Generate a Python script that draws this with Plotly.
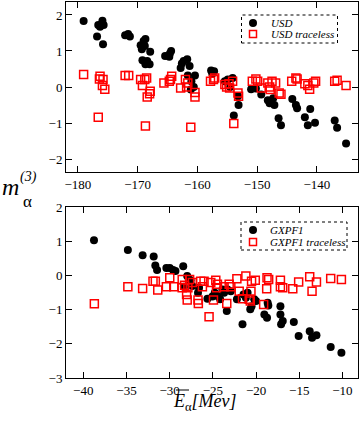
import plotly.graph_objects as go
from plotly.subplots import make_subplots

# USD panel
usd_e = [-179.05, -176.8, -176.6, -176.3, -175.9, -175.7, -175.8, -172.1, -171.6, -171.3,
         -169.5, -169.0, -168.7, -169.3, -168.8, -169.2, -168.4, -168.0, -168.7, -167.9,
         -165.4, -164.6, -164.4, -164.7, -162.6, -162.3, -161.7, -161.3, -162.8, -161.6,
         -160.4, -161.0, -160.6, -161.1, -157.7, -157.2, -157.5, -155.4, -154.9, -154.5,
         -154.1, -153.2, -153.1, -153.9, -151.0, -150.2, -149.3, -148.2, -147.9, -147.3,
         -147.1, -146.4, -146.0, -144.1, -143.5, -143.3, -142.0, -141.5, -141.1, -140.3,
         -137.0, -136.6, -135.1]
usd_m = [1.83, 1.40, 1.72, 1.67, 1.84, 1.72, 1.19, 1.44, 1.47, 1.40,
         1.16, 1.28, 1.33, 1.05, 1.14, 0.74, 0.72, 0.63, 0.63, 0.98,
         0.86, 0.93, 1.00, 0.84, 0.65, 0.72, 0.77, 0.58, 0.53, 0.32,
         0.32, 0.16, 0.00, -0.07, 0.46, 0.44, 0.37, 0.16, 0.21, 0.00,
         0.25, -0.26, -0.50, -0.79, -0.06, -0.04, -0.21, -0.37, -0.45, -0.31,
         -0.50, -0.87, -1.06, -0.33, -0.50, -0.59, -0.84, -1.06, -0.61, -0.99,
         -0.93, -1.13, -1.57]

usd_tr_e = [-179.05, -176.6, -176.4, -176.3, -175.8, -175.9, -175.5, -172.1, -171.5, -169.5,
            -169.2, -168.8, -168.5, -168.4, -168.7, -167.9, -168.0, -165.6, -164.7, -164.3,
            -164.5, -162.8, -162.0, -161.6, -161.8, -161.1, -160.4, -160.4, -157.8, -157.3,
            -157.1, -155.4, -155.1, -154.7, -154.6, -154.1, -153.9, -153.2, -153.1, -150.8,
            -150.2, -149.9, -149.3, -148.2, -147.9, -147.5, -146.9, -147.8, -146.3, -146.0,
            -144.2, -143.5, -143.3, -142.0, -141.5, -141.2, -140.5, -140.2, -137.0, -136.6,
            -135.1]
usd_tr_m = [0.35, -0.84, 0.22, 0.30, 0.21, 0.04, -0.06, 0.32, 0.32, 0.21,
            0.04, 0.21, 0.25, -0.28, -1.08, -0.12, -0.19, 0.11, 0.16, 0.30,
            0.21, -0.03, 0.21, 0.11, 0.00, -1.12, -0.15, -0.28, 0.16, 0.21,
            0.25, 0.07, 0.00, 0.09, -0.03, 0.16, -1.01, -0.17, -0.26, 0.16,
            0.22, 0.16, -0.03, 0.11, 0.00, 0.16, 0.11, -0.07, -0.17, -0.20,
            0.16, 0.25, 0.22, 0.09, 0.04, -0.06, 0.11, 0.16, 0.16, 0.19,
            0.04]

# GXPF1 panel
gx_e = [-38.76, -34.84, -33.13, -31.85, -31.66, -31.46, -30.38, -29.99, -29.60, -29.33,
        -28.43, -27.97, -27.77, -27.58, -28.35, -27.38, -26.72, -26.60, -25.63, -25.05,
        -24.78, -24.47, -24.16, -23.89, -23.70, -23.31, -23.39, -22.92, -22.22, -21.57,
        -21.45, -21.18, -20.98, -20.67, -20.52, -20.21, -20.01, -19.04, -18.73, -18.66,
        -18.58, -17.18, -17.18, -17.10, -16.91, -15.63, -15.07, -13.79, -13.52, -13.01,
        -11.36, -10.12]
gx_m = [1.03, 0.74, 0.59, 0.55, 0.29, 0.16, 0.22, 0.22, 0.16, 0.13,
        0.27, -0.02, -0.12, -0.14, -0.33, -0.31, -0.51, -0.36, -0.68, -0.62,
        -0.51, -0.60, -0.70, -0.41, -0.51, -0.41, -1.04, -0.46, -0.70, -1.43,
        -0.56, -0.65, -0.51, -0.99, -0.90, -0.70, -0.75, -1.14, -1.24, -0.80,
        -0.88, -0.90, -1.14, -1.43, -1.33, -1.36, -1.77, -1.63, -1.82, -1.75,
        -2.09, -2.26]

gx_tr_e = [-38.72, -34.84, -33.13, -31.93, -31.66, -31.38, -30.38, -29.99, -29.52, -28.55,
           -28.55, -28.27, -28.04, -27.97, -27.89, -27.69, -27.38, -26.72, -26.68, -26.41,
           -26.21, -26.02, -25.44, -25.24, -24.93, -24.66, -24.58, -24.47, -23.70, -23.39,
           -23.11, -22.92, -22.22, -21.95, -21.57, -21.18, -20.79, -20.67, -20.59, -20.52,
           -20.09, -19.12, -18.77, -18.73, -18.54, -17.18, -17.18, -16.91, -15.75, -15.07,
           -13.79, -13.52, -13.01, -11.36, -10.12]
gx_tr_m = [-0.83, -0.33, -0.38, -0.17, -0.17, -0.43, -0.33, -0.07, -0.33, -0.12,
           -0.36, -0.29, -0.56, -0.72, -0.36, -0.12, -0.21, -0.72, -0.82, -0.17,
           -0.33, -0.17, -1.21, -0.21, -0.72, -0.14, -0.36, -0.26, -0.33, -0.82,
           -0.26, -0.33, -0.10, -0.46, -0.68, -0.02, -0.70, -0.75, -0.46, -0.17,
           -0.14, -0.85, -0.39, -0.07, -0.12, -0.14, -0.33, -0.36, -0.39, -0.19,
           -0.04, -0.46, -0.19, -0.09, -0.12]

W, H = 360, 432
L, R, T, B = 66, 2, 2, 54
FONT = "Liberation Serif, Times New Roman, serif"


def px(x):
    return (x - L) / (W - L - R)


def py(y):
    return (H - B - y) / (H - T - B)


fig = make_subplots(rows=2, cols=1)

dot = dict(symbol="circle", size=8, color="black")
sq = dict(symbol="square-open", size=8, color="red", line=dict(color="red", width=1.5))

fig.add_trace(go.Scatter(x=usd_e, y=usd_m, mode="markers", marker=dot, name="USD"), row=1, col=1)
fig.add_trace(go.Scatter(x=usd_tr_e, y=usd_tr_m, mode="markers", marker=sq, name="USD traceless"), row=1, col=1)
fig.add_trace(go.Scatter(x=gx_e, y=gx_m, mode="markers", marker=dot, name="GXPF1"), row=2, col=1)
fig.add_trace(go.Scatter(x=gx_tr_e, y=gx_tr_m, mode="markers", marker=sq, name="GXPF1 traceless"), row=2, col=1)

axis_style = dict(showline=True, linecolor="black", linewidth=1, mirror="ticks",
                  ticks="inside", ticklen=6, tickcolor="black", showgrid=False,
                  zeroline=False, automargin=False,
                  tickfont=dict(family=FONT, size=13, color="black"))

fig.update_xaxes(**axis_style)
fig.update_yaxes(**axis_style)
fig.update_xaxes(range=[-182, -133.1], dtick=10, row=1, col=1)
fig.update_yaxes(range=[-2.36, 2.36], dtick=1, domain=[py(172), 1.0], row=1, col=1)
fig.update_xaxes(range=[-42, -8.2], dtick=5, row=2, col=1)
fig.update_yaxes(range=[-3, 2], dtick=1, domain=[0, py(207)], row=2, col=1)

shapes = []
annotations = []

# hand-drawn legends with dotted frames
legends = [
    ((241.5, 15, 337.5, 43), 253, 269, [(23, "USD"), (34, "USD traceless")]),
    ((241, 222, 347, 250), 253, 268, [(230, "GXPF1"), (242, "GXPF1 traceless")]),
]
for (x0, y0, x1, y1), kx, tx, rows in legends:
    shapes.append(dict(type="rect", xref="paper", yref="paper",
                       x0=px(x0), x1=px(x1), y0=py(y1), y1=py(y0),
                       line=dict(color="black", width=1, dash="dot"), fillcolor="white", layer="below"))
    (ya, ta), (yb, tb) = rows
    shapes.append(dict(type="circle", xref="paper", yref="paper",
                       x0=px(kx - 4), x1=px(kx + 4), y0=py(ya + 4), y1=py(ya - 4),
                       fillcolor="black", line=dict(color="black", width=0)))
    shapes.append(dict(type="rect", xref="paper", yref="paper",
                       x0=px(kx - 3.5), x1=px(kx + 3.5), y0=py(yb + 3.5), y1=py(yb - 3.5),
                       fillcolor="rgba(0,0,0,0)", line=dict(color="red", width=1.5)))
    for yy, txt in rows:
        annotations.append(dict(xref="paper", yref="paper", x=px(tx), y=py(yy),
                                xanchor="left", yanchor="middle", showarrow=False,
                                text=f"<i>{txt}</i>", font=dict(family=FONT, size=11, color="black")))

# y axis title: m_alpha^(3)
annotations += [
    dict(xref="paper", yref="paper", x=px(10), y=py(187), xanchor="center", yanchor="middle",
         text="<i>m</i>", showarrow=False, font=dict(family=FONT, size=24, color="black")),
    dict(xref="paper", yref="paper", x=px(28), y=py(177), xanchor="center", yanchor="middle",
         text="<i>(3)</i>", showarrow=False, font=dict(family=FONT, size=14, color="black")),
    dict(xref="paper", yref="paper", x=px(27.5), y=py(201), xanchor="center", yanchor="middle",
         text="α", showarrow=False, font=dict(family=FONT, size=17, color="black")),
]

# x axis title: E-bar_alpha [Mev]
annotations.append(
    dict(xref="paper", yref="paper", x=px(171), y=py(402), xanchor="left", yanchor="middle",
         text="<i>E</i><sub>α</sub><i>[Mev]</i>",
         showarrow=False, font=dict(family=FONT, size=18, color="black")))
shapes.append(dict(type="line", xref="paper", yref="paper", x0=px(176), x1=px(189),
                   y0=py(390), y1=py(390), line=dict(color="black", width=1)))

fig.update_layout(
    width=W, height=H,
    margin=dict(l=L, r=R, t=T, b=B),
    paper_bgcolor="white", plot_bgcolor="white",
    showlegend=False,
    shapes=shapes,
    annotations=annotations,
    font=dict(family=FONT, color="black"),
)

fig.write_html("out.html", config={"displayModeBar": False},
               post_script="document.body.style.margin='0';")
